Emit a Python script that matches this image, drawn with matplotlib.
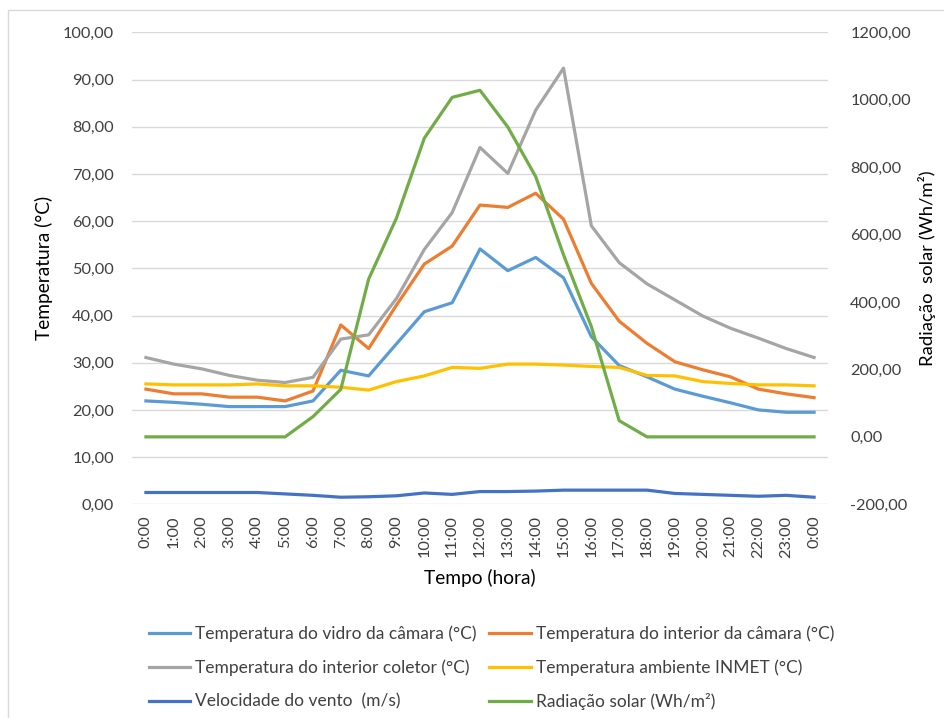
import matplotlib
matplotlib.use("Agg")
import matplotlib.pyplot as plt
from matplotlib.ticker import FuncFormatter, MultipleLocator
from matplotlib.patches import Rectangle

plt.rcParams['font.family'] = ['Lato', 'DejaVu Sans']

# data
horas = ["0:00", "1:00", "2:00", "3:00", "4:00", "5:00", "6:00", "7:00", "8:00",
         "9:00", "10:00", "11:00", "12:00", "13:00", "14:00", "15:00", "16:00",
         "17:00", "18:00", "19:00", "20:00", "21:00", "22:00", "23:00", "0:00"]
vidro = [21.9, 21.6, 21.2, 20.7, 20.7, 20.7, 21.9, 28.4, 27.2, 34.0, 40.8, 42.7,
         54.1, 49.5, 52.3, 48.0, 35.5, 29.4, 27.0, 24.4, 22.9, 21.5, 20.0, 19.5, 19.5]
interior_camara = [24.4, 23.4, 23.4, 22.7, 22.7, 21.9, 24.0, 38.0, 33.0, 42.2, 50.9,
                   54.7, 63.4, 62.9, 65.9, 60.4, 46.8, 38.8, 34.1, 30.2, 28.5, 27.0,
                   24.4, 23.4, 22.6]
interior_coletor = [31.1, 29.7, 28.7, 27.3, 26.3, 25.8, 26.9, 35.0, 35.9, 43.6, 54.0,
                    61.8, 75.6, 70.1, 83.5, 92.4, 59.0, 51.2, 46.7, 43.3, 39.9, 37.3,
                    35.2, 33.0, 31.1]
ambiente = [25.5, 25.3, 25.3, 25.3, 25.5, 25.1, 25.1, 24.8, 24.2, 26.0, 27.2, 29.0,
            28.8, 29.7, 29.7, 29.5, 29.2, 29.0, 27.3, 27.2, 26.0, 25.6, 25.3, 25.3, 25.1]
vento = [2.5, 2.5, 2.5, 2.5, 2.5, 2.2, 1.9, 1.5, 1.6, 1.8, 2.4, 2.1, 2.7, 2.7, 2.8,
         3.0, 3.0, 3.0, 3.0, 2.3, 2.1, 1.9, 1.7, 1.9, 1.5]
radiacao = [0, 0, 0, 0, 0, 0, 60, 141, 468, 649, 886, 1007, 1028, 919, 772, 540,
            327, 48, 0, 0, 0, 0, 0, 0, 0]

labels = ["Temperatura do vidro da câmara (°C)",
          "Temperatura do interior da câmara (°C)",
          "Temperatura do interior coletor (°C)",
          "Temperatura ambiente INMET (°C)",
          "Velocidade do vento  (m/s)",
          "Radiação solar (Wh/m²)"]

fmt = FuncFormatter(lambda v, p: f"{v:.2f}".replace(".", ","))
txt = "#404040"
tick_fs = 11.8
title_fs = 13.8
leg_fs = 12.5

fig = plt.figure(figsize=(9.45, 7.18), dpi=100)
fig.patches.append(Rectangle((8 / 945, -0.01), 1.02, 1 - 10 / 718 + 0.01,
                             transform=fig.transFigure, fill=False,
                             edgecolor="#D9D9D9", linewidth=1))
ax = fig.add_axes([132 / 945, 1 - 504.3 / 718, (828 - 132) / 945, (504.3 - 32.3) / 718])
ax2 = ax.twinx()

x = list(range(len(horas)))
lw = 2.3
l1, = ax.plot(x, vidro, color="#5B9BD5", lw=lw)
l2, = ax.plot(x, interior_camara, color="#ED7D31", lw=lw)
l3, = ax.plot(x, interior_coletor, color="#A5A5A5", lw=lw)
l4, = ax.plot(x, ambiente, color="#FFC000", lw=lw)
l5, = ax.plot(x, vento, color="#4472C4", lw=lw)
l6, = ax2.plot(x, radiacao, color="#70AD47", lw=lw)

ax.set_xlim(-0.5, len(horas) - 0.5)
ax.set_ylim(0, 100)
ax2.set_ylim(-200, 1200)
ax.yaxis.set_major_locator(MultipleLocator(10))
ax2.yaxis.set_major_locator(MultipleLocator(200))
ax.yaxis.set_major_formatter(fmt)
ax2.yaxis.set_major_formatter(fmt)
ax.set_xticks(x)
ax.set_xticklabels(horas, rotation=90)

ax.grid(axis="y", color="#D9D9D9", lw=1)
ax.set_axisbelow(True)
for a in (ax, ax2):
    for s in a.spines.values():
        s.set_visible(False)
    a.tick_params(length=0, labelsize=tick_fs, labelcolor=txt)
ax.tick_params(axis="y", pad=13)
ax2.tick_params(axis="y", pad=16)
ax.tick_params(axis="x", pad=8)

ax.set_ylabel("Temperatura (°C)", fontsize=title_fs, color="black", labelpad=7)
ax2.set_ylabel("Radiação  solar (Wh/m²)", fontsize=13.3, color="black", labelpad=5)
ax.set_xlabel("Tempo (hora)", fontsize=title_fs, color="black", labelpad=8)

handles = [l1, l3, l5, l2, l4, l6]
leg_labels = [labels[0], labels[2], labels[4], labels[1], labels[3], labels[5]]
fig.legend(handles, leg_labels, ncol=2, frameon=False, fontsize=leg_fs,
           loc="upper left", bbox_to_anchor=(133 / 945, 1 - 610 / 718),
           handlelength=2.4, handletextpad=0.28, columnspacing=0.72,
           labelspacing=1.0, labelcolor=txt)

fig.savefig("out.png", dpi=100)
